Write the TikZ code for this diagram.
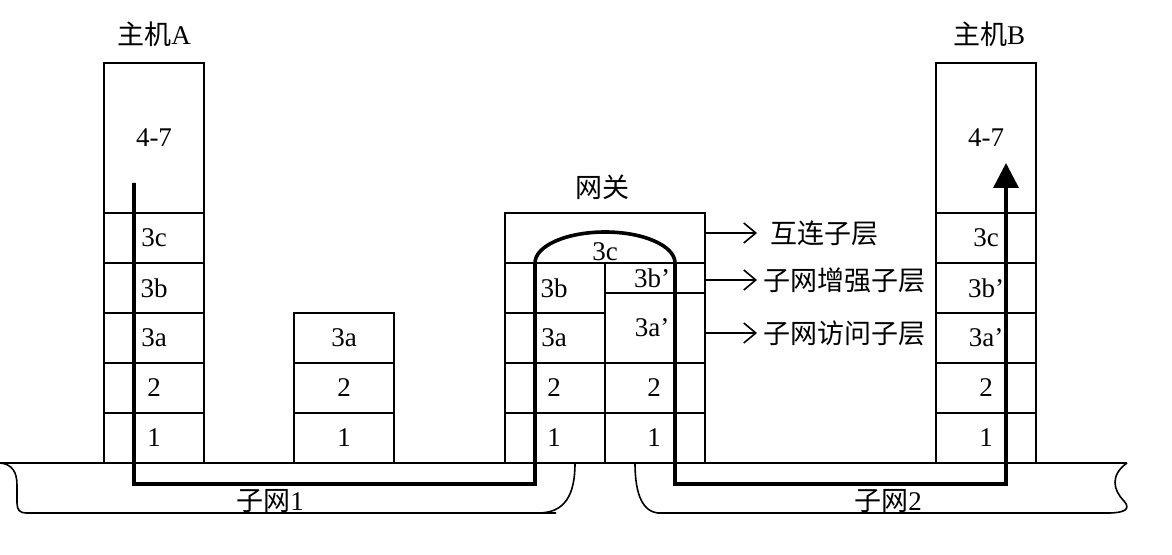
\documentclass[tikz,border=0pt]{standalone}
\usepackage{fontspec}
\setmainfont{Liberation Serif}
\newfontfamily\cjk{Noto Sans CJK SC}
\usetikzlibrary{arrows.meta}
\begin{document}
\begin{tikzpicture}[x=0.5pt,y=-0.5pt,
  every node/.style={font=\fontsize{13.5}{16}\selectfont},
  cell/.style={draw, line width=0.8pt, minimum width=50pt, minimum height=25pt, inner sep=0pt, outer sep=0pt},
  gcol/.style={cell, minimum width=15pt},
  gstk/.style={cell, minimum width=35pt},
  txt/.style={inner sep=0pt},
  lab/.style={line width=0.8pt, -{Straight Barb[length=6pt,width=10pt]}},
  flow/.style={line width=1.8pt, -{Triangle[length=12.5pt,width=12.5pt]}},
  sub/.style={line width=0.8pt}]
\useasboundingbox (0,0) rectangle (1172,555);

% Host A
\node[cell, minimum height=75pt] (A47) at (154,138) {4-7};
\node[cell] (A3c) at (154,238) {3c};
\node[cell] (A3b) at (154,288) {3b};
\node[cell] (A3a) at (154,338) {3a};
\node[cell] (A2) at (154,388) {2};
\node[cell] (A1) at (154,438) {1};
\node[txt] (hA) at (154,34) {{\cjk 主机}A};

% Middle stack
\node[cell] (M3a) at (344,338) {3a};
\node[cell] (M2) at (344,388) {2};
\node[cell] (M1) at (344,438) {1};

% Gateway
\node[cell, minimum width=100pt] (G3c) at (605,238) {};
\node[gcol] (GLc1) at (520,288) {};
\node[gcol] (GLc2) at (520,338) {};
\node[gcol] (GLc3) at (520,388) {};
\node[gcol] (GLc4) at (520,438) {};
\node[gstk] (GL3b) at (570,288) {};
\node[gstk] (GL3a) at (570,338) {};
\node[gstk] (GL2) at (570,388) {};
\node[gstk] (GL1) at (570,438) {};
\node[gstk, minimum height=15pt] (GR3b) at (640,278) {};
\node[gstk, minimum height=35pt] (GR3a) at (640,328) {};
\node[gstk] (GR2) at (640,388) {};
\node[gstk] (GR1) at (640,438) {};
\node[gcol, minimum height=15pt] (GRc1) at (690,278) {};
\node[gcol, minimum height=35pt] (GRc2) at (690,328) {};
\node[gcol] (GRc3) at (690,388) {};
\node[gcol] (GRc4) at (690,438) {};
\node[txt] (G3ct) at (605,252) {3c};
\node[txt] (GL3bt) at (554,288) {3b};
\node[txt] (GL3at) at (554,338) {3a};
\node[txt] (GL2t) at (554,388) {2};
\node[txt] (GL1t) at (554,438) {1};
\node[txt] (GR3bt) at (652,278) {3b’};
\node[txt] (GR3at) at (652,328) {3a’};
\node[txt] (GR2t) at (654,388) {2};
\node[txt] (GR1t) at (654,438) {1};
\node[txt] (hG) at (602,187) {\cjk 网关};

% Sublayer labels
\node[txt, anchor=west, outer sep=6.5pt] (L1) at (757,233) {\cjk 互连子层};
\node[txt, anchor=west, outer sep=3pt] (L2) at (757,280) {\cjk 子网增强子层};
\node[txt, anchor=west, outer sep=3pt] (L3) at (757,333) {\cjk 子网访问子层};
\draw[lab] (G3c.east |- L1.west) -- (L1.west);
\draw[lab] (GRc1.east |- L2.west) -- (L2.west);
\draw[lab] (GRc2.east |- L3.west) -- (L3.west);

% Host B
\node[cell, minimum height=75pt] (B47) at (986,138) {4-7};
\node[cell] (B3c) at (986,238) {3c};
\node[cell] (B3b) at (986,288) {3b’};
\node[cell] (B3a) at (986,338) {3a’};
\node[cell] (B2) at (986,388) {2};
\node[cell] (B1) at (986,438) {1};
\node[txt] (hB) at (989,34) {{\cjk 主机}B};

% Subnets
\draw[sub] (0,463) -- (575,463);
\draw[sub] (0,463) .. controls (12,464) and (17,472) .. (17,485) -- (17,503) .. controls (17,510) and (20,513) .. (26,513) -- (556,513);
\draw[sub] (575,463) .. controls (575,495) and (565,513) .. (538,513);
\draw[sub] (635,463) -- (1127,463);
\draw[sub] (635,463) .. controls (635,495) and (643,513) .. (660,513);
\draw[sub] (657,513) -- (1108,513) .. controls (1125,513) and (1131,509) .. (1124,501) .. controls (1113,490) and (1110,475) .. (1127,463);
\node[txt] (S1) at (270,501) {{\cjk 子网}1};
\node[txt] (S2) at (888,501) {{\cjk 子网}2};

% Data path
\coordinate (start) at (134,183);
\coordinate (tip) at (1006,163);
\coordinate (bot) at (0,484);
\draw[flow] (start) -- (start |- bot) -- (GL1.west |- bot) -- (GL3b.north west)
  arc[start angle=180, end angle=0, x radius=35pt, y radius=15.5pt]
  -- (GR1.east |- bot) -- (tip |- bot) -- (tip);
\end{tikzpicture}
\end{document}
